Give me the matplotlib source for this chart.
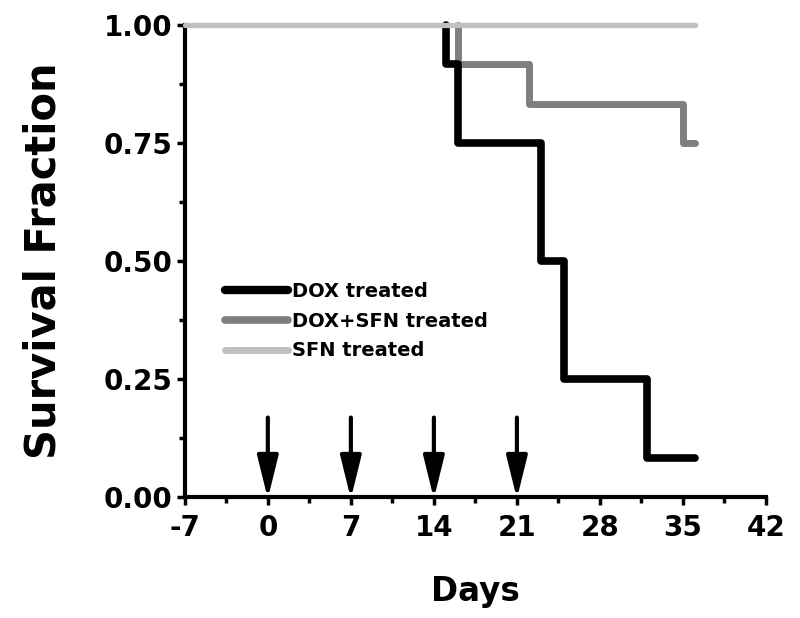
import matplotlib
matplotlib.use("Agg")
import matplotlib.pyplot as plt
from matplotlib.ticker import MultipleLocator

# Data (Kaplan-Meier step functions; survival is 1.0 before the first event)
dox_days = [15, 16, 23, 25, 32, 36]
dox_surv = [0.917, 0.75, 0.50, 0.25, 0.083, 0.083]

doxsfn_days = [16, 22, 35, 36]
doxsfn_surv = [0.917, 0.833, 0.75, 0.75]

sfn_days = [-7, 36]
sfn_surv = [1.0, 1.0]

arrow_days = [0, 7, 14, 21]

labels = ["DOX treated", "DOX+SFN treated", "SFN treated"]
x_ticks = [-7, 0, 7, 14, 21, 28, 35, 42]
y_ticks = [0.0, 0.25, 0.50, 0.75, 1.00]

plt.rcParams['font.family'] = ['DejaVu Sans']
plt.rcParams['font.weight'] = 'bold'

fig = plt.figure(figsize=(8, 6.18), dpi=100)
ax = fig.add_axes([0.231, 0.196, 0.7265, 0.764])

kw = dict(drawstyle='steps-post', solid_capstyle='round', solid_joinstyle='round', clip_on=False)
l2, = ax.plot([doxsfn_days[0]] + doxsfn_days, [1.0] + doxsfn_surv, color='#7f7f7f', lw=5.0, zorder=3, **kw)
l1, = ax.plot([dox_days[0]] + dox_days, [1.0] + dox_surv, color='#000000', lw=5.5, zorder=4, **kw)
l3, = ax.plot(sfn_days, sfn_surv, color='#c0c0c0', lw=3.8, zorder=5, **kw)

for d in arrow_days:
    ax.annotate('', xy=(d, -0.004), xytext=(d, 0.168), annotation_clip=False,
                arrowprops=dict(arrowstyle='-|>,head_length=1.3,head_width=0.32',
                                mutation_scale=20, lw=3, color='black',
                                shrinkA=0, shrinkB=0))

ax.set_xlim(-7, 42)
ax.set_ylim(0, 1)
ax.set_xticks(x_ticks)
ax.set_xticklabels([str(t) for t in x_ticks])
ax.set_yticks(y_ticks)
ax.set_yticklabels([f"{t:.2f}" for t in y_ticks])
ax.xaxis.set_minor_locator(MultipleLocator(3.5))
ax.yaxis.set_minor_locator(MultipleLocator(0.125))

for s in ['top', 'right']:
    ax.spines[s].set_visible(False)
for s in ['left', 'bottom']:
    ax.spines[s].set_linewidth(3)

ax.tick_params(which='major', direction='out', length=6, width=2.5, labelsize=20)
ax.tick_params(axis='y', which='major', pad=3)
ax.tick_params(axis='x', which='major', pad=6)
ax.tick_params(which='minor', direction='out', length=4, width=2.5)
for lab in ax.get_xticklabels() + ax.get_yticklabels():
    lab.set_fontweight('bold')

ax.set_xlabel('Days', fontsize=23.5, fontweight='bold', labelpad=24)
ax.set_ylabel('Survival Fraction', fontsize=30, fontweight='bold', labelpad=28)

leg = ax.legend([l1, l2, l3], labels, loc='center left', bbox_to_anchor=(0.07, 0.372),
                frameon=False, fontsize=14, handlelength=3.2, handletextpad=0.2,
                labelspacing=0.55, borderpad=0, borderaxespad=0)
for t in leg.get_texts():
    t.set_fontweight('bold')
for ln, w in zip(leg.get_lines(), [6, 5.5, 5]):
    ln.set_linewidth(w)

fig.savefig('out.png', dpi=100)
